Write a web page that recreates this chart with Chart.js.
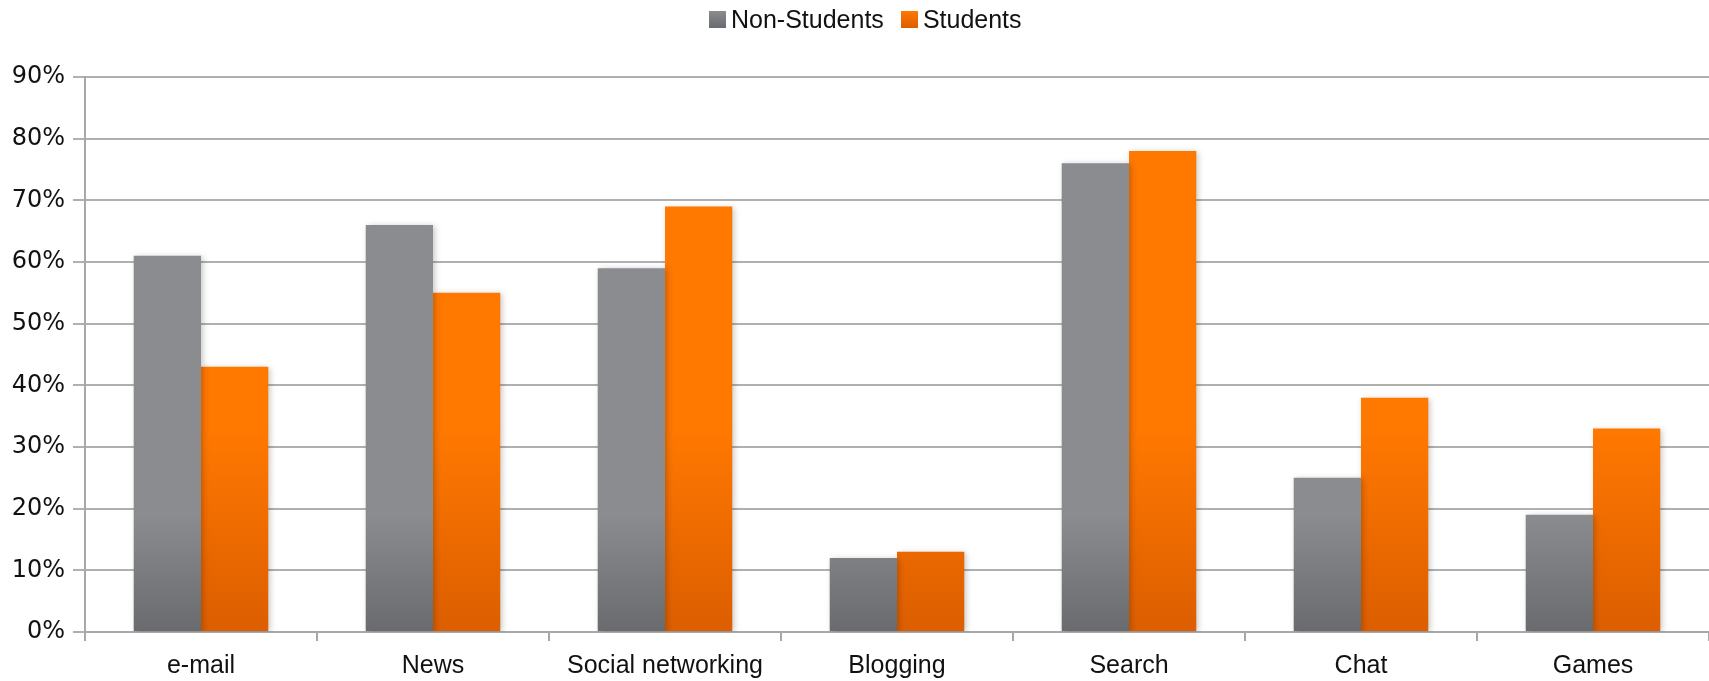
<!DOCTYPE html>
<html>
<head>
<meta charset="utf-8">
<script src="https://cdn.jsdelivr.net/npm/chart.js@4.4.1/dist/chart.umd.min.js"></script>
<style>
    html, body { margin: 0; padding: 0; background: #fff; }
    #wrap { width: 1709px; height: 681px; position: relative; }
    #legend {
        position: absolute; top: 5px; left: 709px;
        display: flex; align-items: center;
        font-family: 'Liberation Sans', Arial, sans-serif; font-size: 25px; color: #111;
    }
    #legend .item { display: flex; align-items: center; margin-right: 17px; }
    #legend .box { width: 17px; height: 17px; margin-right: 5px; }
</style>
</head>
<body>
<div id="wrap">
    <div id="legend"></div>
    <canvas id="chart"></canvas>
</div>
<script>
const categories = ['e-mail', 'News', 'Social networking', 'Blogging', 'Search', 'Chat', 'Games'];
const nonStudents = [61, 66, 59, 12, 76, 25, 19];
const students = [43, 55, 69, 13, 78, 38, 33];
const yTicks = [0, 10, 20, 30, 40, 50, 60, 70, 80, 90];
const seriesNames = ['Non-Students', 'Students'];

// top / bottom colours of each bar's vertical gradient
const barColors = [
    ['#8b8c90', '#6a6b6f'],
    ['#ff7800', '#dc5e00']
];

document.getElementById('legend').innerHTML = seriesNames.map((name, i) => `
    <div class="item">
        <div class="box" style="background:linear-gradient(${barColors[i][0]}, ${barColors[i][1]});"></div>
        <span>${name}</span>
    </div>
`).join('');

const barGradients = {
    id: 'barGradients',
    beforeDatasetsDraw(chart) {
        const ctx = chart.ctx;
        chart.data.datasets.forEach((ds, i) => {
            chart.getDatasetMeta(i).data.forEach(el => {
                const g = ctx.createLinearGradient(0, el.y, 0, el.base);
                g.addColorStop(0, barColors[i][0]);
                g.addColorStop(1, barColors[i][1]);
                el.options.backgroundColor = g;
            });
        });
    },
    beforeDatasetDraw(chart) {
        const ctx = chart.ctx;
        ctx.save();
        ctx.shadowColor = 'rgba(0,0,0,0.22)';
        ctx.shadowBlur = 6;
        ctx.shadowOffsetX = 2;
        ctx.shadowOffsetY = 1;
    },
    afterDatasetDraw(chart) {
        chart.ctx.restore();
    }
};

const ctx = document.getElementById('chart').getContext('2d');
new Chart(ctx, {
    type: 'bar',
    data: {
        labels: categories,
        datasets: [
            { label: seriesNames[0], data: nonStudents, backgroundColor: '#7a7b7f' },
            { label: seriesNames[1], data: students, backgroundColor: '#f06c00' }
        ]
    },
    options: {
        responsive: true,
        maintainAspectRatio: false,
        animation: false,
        layout: { padding: { top: 77, right: 0, bottom: 0, left: 0 } },
        datasets: { bar: { categoryPercentage: 0.58, barPercentage: 1.0 } },
        plugins: {
            tooltip: { enabled: false },
            legend: { display: false }
        },
        scales: {
            x: {
                offset: true,
                afterFit(scale) {
                    scale.height = 49;
                },
                grid: {
                    display: true,
                    offset: true,
                    drawOnChartArea: false,
                    drawTicks: true,
                    tickLength: 9,
                    color: '#a8a8a8',
                    lineWidth: 2
                },
                border: { color: '#a8a8a8', width: 2 },
                ticks: {
                    color: '#111',
                    font: { family: 'Liberation Sans', size: 25 },
                    padding: 10
                }
            },
            y: {
                min: 0,
                max: 90,
                afterBuildTicks(scale) {
                    scale.ticks = yTicks.map(v => ({ value: v }));
                },
                afterFit(scale) {
                    scale.width = 85;
                },
                grid: {
                    color: '#b0b0b0',
                    lineWidth: 2,
                    tickLength: 12
                },
                border: { color: '#a8a8a8', width: 2 },
                ticks: {
                    color: '#111',
                    font: { family: 'DejaVu Sans', size: 24 },
                    padding: 8,
                    callback: v => v + '%'
                }
            }
        }
    },
    plugins: [barGradients]
});
</script>
</body>
</html>
